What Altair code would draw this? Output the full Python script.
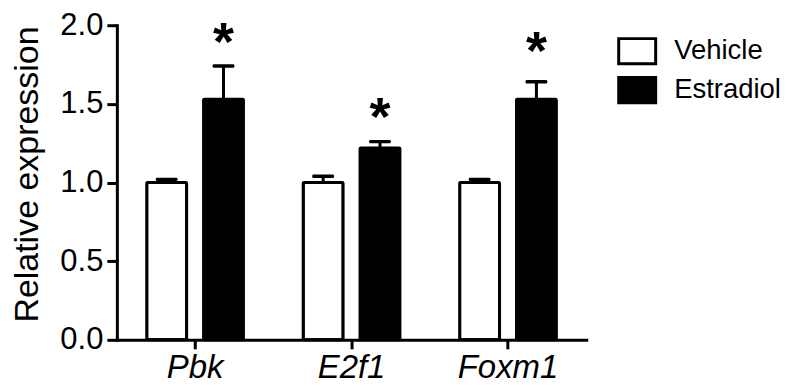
import altair as alt
import pandas as pd

genes = ["Pbk", "E2f1", "Foxm1"]
treatments = ["Vehicle", "Estradiol"]
vehicle_mean = [1.00, 1.00, 1.00]
vehicle_err = [0.02, 0.04, 0.02]
estradiol_mean = [1.53, 1.22, 1.53]
estradiol_err = [0.21, 0.04, 0.11]
star_pos = [1.95, 1.475, 1.89]

rows = []
for i, g in enumerate(genes):
    rows.append({"gene": g, "treatment": "Vehicle", "mean": vehicle_mean[i],
                 "upper": vehicle_mean[i] + vehicle_err[i], "star": 0.0})
    rows.append({"gene": g, "treatment": "Estradiol", "mean": estradiol_mean[i],
                 "upper": estradiol_mean[i] + estradiol_err[i], "star": star_pos[i]})
df = pd.DataFrame(rows)

FONT = "Liberation Sans"

base = alt.Chart(df).encode(
    x=alt.X("gene:N", sort=genes,
            scale=alt.Scale(paddingInner=0, paddingOuter=0),
            axis=alt.Axis(title=None, labelAngle=0, labelFontSize=33,
                          labelFontStyle="italic", labelPadding=3,
                          tickSize=9, tickWidth=3, domainWidth=3,
                          domainColor="black", tickColor="black",
                          labelColor="black", domainCap="square")),
    xOffset=alt.XOffset("treatment:N", sort=treatments,
                        scale=alt.Scale(paddingInner=0.298, paddingOuter=0.526)),
)

yscale = alt.Scale(domain=[0, 2])

bars = base.mark_bar(stroke="black", strokeWidth=3, cornerRadius=1).encode(
    y=alt.Y("mean:Q", scale=yscale,
            axis=alt.Axis(title="Relative expression", values=[0, 0.5, 1.0, 1.5, 2.0],
                          format=".1f", labelFontSize=31, labelPadding=4,
                          tickSize=10, tickWidth=3, domainWidth=3,
                          domainColor="black", tickColor="black",
                          labelColor="black", titleColor="black",
                          titleFontSize=34, titleFontWeight="normal",
                          titleX=-79, titleY=149, titleBaseline="alphabetic",
                          domainCap="square", grid=False)),
    fill=alt.Fill("treatment:N",
                  scale=alt.Scale(domain=treatments, range=["white", "black"]),
                  legend=alt.Legend(title=None, orient="none", legendX=501, legendY=6,
                                    symbolType="M-1,-0.68L1,-0.68L1,0.68L-1,0.68Z",
                                    symbolSize=1369, symbolStrokeWidth=3,
                                    symbolStrokeColor="black", labelFontSize=27.5,
                                    labelColor="black", labelOffset=17,
                                    rowPadding=-2, padding=0, symbolOpacity=1)),
)

rules = base.mark_rule(strokeWidth=3, color="black").encode(
    y=alt.Y("mean:Q", scale=yscale), y2="upper:Q")

caps = base.mark_tick(thickness=3.5, size=22, color="black", cornerRadius=1.5, opacity=1).encode(
    y=alt.Y("upper:Q", scale=yscale))

stars = base.transform_filter(alt.datum.star > 0).mark_text(
    text="*", fontSize=54, fontWeight="bold", baseline="alphabetic", dy=27,
    color="black").encode(y=alt.Y("star:Q", scale=yscale))

chart = alt.layer(bars, rules, caps, stars).properties(
    width=470, height=315,
    autosize="none",
    padding={"left": 109, "top": 17, "right": 196, "bottom": 48},
).configure(font=FONT).configure_view(stroke=None)

chart.save("out.html", embed_options={"renderer": "svg", "actions": False})
